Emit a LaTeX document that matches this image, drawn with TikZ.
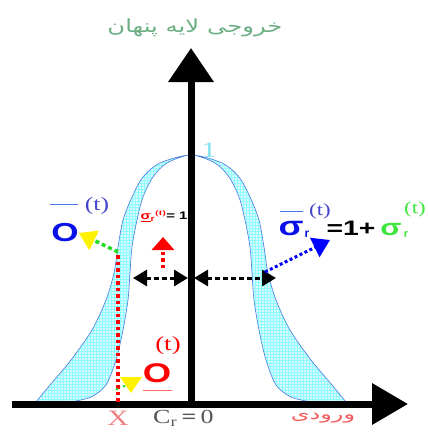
\documentclass[tikz,border=0pt]{standalone}
\usepackage{fontspec}
\setmainfont{Liberation Serif}
\newfontfamily\sansfam{Liberation Sans}
\newfontfamily\arabicfont[Script=Arabic]{DejaVu Sans}
\TeXXeTstate=1
\usepackage{graphicx}
\usepackage{xcolor}
\definecolor{titlegreen}{HTML}{6AAE82}
\definecolor{peakcyan}{HTML}{7FE3F0}
\definecolor{obaseblue}{HTML}{0A10E8}
\definecolor{tblue}{HTML}{4444CC}
\definecolor{tgreen}{HTML}{3CE63C}
\definecolor{dashgreen}{HTML}{22DD22}
\definecolor{bandfill}{HTML}{DDF7FC}
\definecolor{bandline}{HTML}{4A78E0}
\definecolor{salmon}{HTML}{F08080}
\definecolor{crgray}{HTML}{555555}
\usepackage{tikz}
\usetikzlibrary{arrows.meta,patterns}
\tikzset{
  axisln/.style ={line width=7pt,black},
  band/.style   ={draw=bandline,line width=0.6pt,preaction={fill=bandfill},
                  pattern=grid,pattern color=cyan!45},
  reddots/.style={red,line width=3.5pt,dash pattern=on 3.5pt off 3pt},
  spread/.style ={black,line width=3pt,dash pattern=on 5pt off 3pt,
                  {Triangle[length=14pt,width=16pt]}-{Triangle[length=14pt,width=16pt]}},
  lbl/.style    ={inner sep=0pt},
}
\newcommand{\wider}[1]{\scalebox{1.35}[1]{#1}}
\newcommand{\bsans}[1]{\sansfam\bfseries\fontsize{#1}{#1}\selectfont}
\newcommand{\serif}[1]{\rmfamily\fontsize{#1}{#1}\selectfont}

\begin{document}
\begin{tikzpicture}[x=1pt,y=-1pt]
\useasboundingbox (0,0) rectangle (428,432);
% band between the two bells
\draw[band] plot[smooth] coordinates {(36,402) (50,385) (71,360) (92,330) (106,300)
  (114,273) (118,247) (123,220) (132,197) (143,177) (160,163) (191,155) (222,163)
  (239,177) (250,197) (259,220) (264,247) (268,273) (276,300) (290,330) (311,360)
  (332,385) (346,402)}
  -- plot[smooth] coordinates {(311,402) (291,397) (276,385) (266,360) (259,330)
  (254,300) (252,273) (250,247) (245,220) (239,197) (229,177) (215,163) (191,155)
  (167,163) (153,177) (143,197) (137,220) (132,247) (130,273) (128,300) (123,330)
  (116,360) (106,385) (91,397) (71,402)} -- cycle;
% axes
\coordinate (orig) at (191,404);
\coordinate (ytop) at (191,48);
\coordinate (xleft) at (12,404);
\coordinate (xright) at (408,404);
\draw[axisln,-{Triangle[length=34pt,width=44pt]}] (orig) -- (ytop);
\draw[axisln,-{Triangle[length=36pt,width=40pt]}] (xleft) -- (xright);
\node[lbl,text=titlegreen,font=\arabicfont\fontsize{18}{18}\selectfont] (title) at (195,28)
  {\wider{\beginR خروجی لایه پنهان\endR}};
\node[lbl,text=salmon!70!red,font=\arabicfont\fontsize{15}{15}\selectfont] (xlabel) at (323,418)
  {\scalebox{1.6}[1]{\beginR ورودی\endR}};
\node[lbl,text=peakcyan,font=\serif{22}] (peak) at (209,150) {\wider{1}};
% red dotted line at X
\coordinate (xtop) at (118,255);
\coordinate (xfoot) at (118,404);
\draw[reddots] (xtop) -- (xfoot);
\node[lbl,anchor=north,text=salmon,font=\serif{22}] (xmark) at (118,411) {\wider{X}};
\node[lbl,anchor=north west,text=crgray,font=\serif{20}] (center) at (153,410)
  {\scalebox{1.3}[1]{C\textsubscript{r}\,\textbf{=}\,0}};
% spread arrows
\coordinate (sl) at (133,278);
\coordinate (sm1) at (188,278);
\coordinate (sm2) at (194,278);
\coordinate (sr) at (276,278);
\draw[spread] (sl) -- (sm1);
\draw[spread] (sm2) -- (sr);
% left output label
\node[lbl,text=obaseblue,font=\bsans{26}] (obar) at (65,233) {\wider{O}};
\draw[bandline,line width=0.8pt] (50,204) -- (78,204);
\node[lbl,text=tblue,font=\serif{19}] (obart) at (97,206) {\wider{(t)}};
\coordinate (gstart) at (118,252);
\draw[dashgreen,line width=3.5pt,dash pattern=on 4pt off 3pt,
  -{Triangle[length=17pt,width=21pt,color=yellow]}] (gstart) -- (obar.east);
% sigma = 1
\node[lbl,font=\bsans{11}] (sig1) at (164,216)
  {\wider{\textcolor{red}{\underline{σ}\textsubscript{r}\textsuperscript{\rmfamily(t)}}= 1}};
\coordinate (rstart) at (163,268);
\coordinate (rtip) at (163,237);
\draw[reddots,-{Triangle[length=13pt,width=22pt]}] (rstart) -- (rtip);
% right label
\node[lbl,anchor=base,text=obaseblue,font=\bsans{27}] (sigbar) at (291,235) {\wider{σ}};
\node[lbl,anchor=base,text=obaseblue,font=\bsans{12}] (sigbarr) at (307,237) {r};
\draw[bandline,line width=0.8pt] (280,211) -- (303,211);
\node[lbl,text=tblue,font=\serif{17}] (sigbart) at (320,211) {\wider{(t)}};
\node[lbl,anchor=base,font=\bsans{21}] (eq) at (351,235) {\wider{=1+}};
\node[lbl,anchor=base,text=tgreen,font=\bsans{23}] (sig) at (391,235) {\wider{σ}};
\node[lbl,anchor=base,text=tgreen,font=\bsans{11}] (sigr) at (406,237) {r};
\node[lbl,text=tgreen,font=\serif{17}] (sigt) at (415,209) {\wider{(t)}};
\coordinate (bstart) at (265,272);
\coordinate (bend) at (330,240);
\draw[blue,line width=3pt,dash pattern=on 3pt off 2.5pt,
  -{Triangle[length=17pt,width=21pt]}] (bstart) -- (bend);
% bottom output label
\node[lbl,text=red,font=\bsans{27}] (olow) at (157,373) {\wider{O}};
\node[lbl,text=red,font=\serif{20}] (olowt) at (168,346) {\wider{(t)}};
\draw[red!60,line width=0.8pt] (143,390) -- (172,390);
\fill[yellow] (120,377) -- (142,377) -- (131,393) -- cycle;
\fill[dashgreen] (117,389) circle (1.5pt) (124,386) circle (1.5pt);
\end{tikzpicture}
\end{document}
